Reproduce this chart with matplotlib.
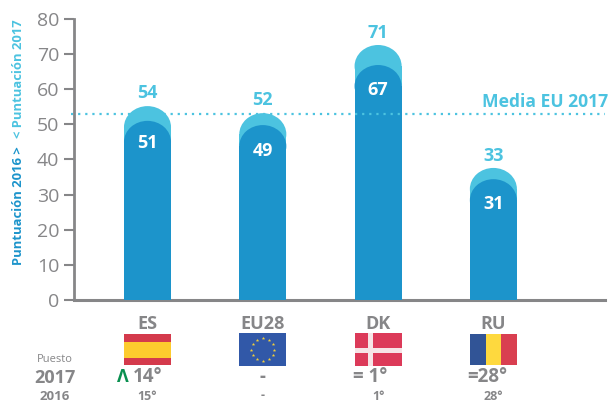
import numpy as np
import matplotlib
matplotlib.use("Agg")
import matplotlib.pyplot as plt
from matplotlib.patches import Ellipse, Rectangle

plt.rcParams['font.family'] = ['Open Sans', 'DejaVu Sans']

categories = ["ES", "EU28", "DK", "RU"]
top_2017 = [55.2, 53.2, 72.6, 37.6]  # drawn heights
top_2016 = [51.0, 49.8, 66.9, 34.4]
labels_2017 = ["54", "52", "71", "33"]
labels_2016 = ["51", "49", "67", "31"]
label_2017_y = [59.0, 57.0, 76.0, 41.0]
label_2016_y = [44.6, 42.3, 59.9, 27.4]
eu_mean = 53
rank_2017 = ["14°", "-", "= 1°", "=28°"]
rank_2016 = ["15°", "-", "1°", "28°"]
rank_2017_shift = [0, 0, -0.065, -0.05]

GREY = "#868688"
LIGHT = "#4cc3e0"
DARK = "#1c94cb"
W = 609
H = 403
bar_w = 0.408
cap = 6.0  # height of rounded top, in axis units

fig = plt.figure(figsize=(W / 100, H / 100), dpi=100)
ax = fig.add_axes([74 / W, 103 / H, 531 / W, 281 / H])
ax.set_xlim(-0.6375, 3.968)
ax.set_ylim(0, 80)


def round_bar(x, top, color, z):
    ax.bar(x, top - cap, bar_w, color=color, zorder=z)
    ax.add_patch(Ellipse((x, top - cap), bar_w, 2 * cap, color=color, lw=0, zorder=z))


for i in range(len(categories)):
    round_bar(i, top_2017[i], LIGHT, 2)
    round_bar(i, top_2016[i], DARK, 3)
    ax.text(i, label_2017_y[i], labels_2017[i], color=LIGHT, fontsize=13, fontweight="bold",
            ha="center", va="center", zorder=5)
    ax.text(i, label_2016_y[i], labels_2016[i], color="white", fontsize=13, fontweight="bold",
            ha="center", va="center", zorder=5)

# dotted mean line sits behind the bars, except across DK
ax.plot([-0.66, 3.968], [eu_mean, eu_mean], color=LIGHT, lw=1.6, ls=(0, (1, 2.2)), zorder=1, clip_on=False)
ax.plot([2 - bar_w / 2, 2 + bar_w / 2], [eu_mean, eu_mean], color=LIGHT, lw=1.6, ls=(0, (1, 2.2)), zorder=4)
ax.text(3.995, 56.5, "Media EU 2017", color=LIGHT, fontsize=12.6, fontweight="bold", ha="right", va="center")

for s in ["top", "right"]:
    ax.spines[s].set_visible(False)
ax.spines["left"].set_color(GREY)
ax.spines["left"].set_linewidth(2)
ax.spines["bottom"].set_color(GREY)
ax.spines["bottom"].set_linewidth(2.2)
ax.set_yticks(range(0, 81, 10))
ax.tick_params(axis="y", colors=GREY, labelsize=14, length=7.5, width=1.5, pad=3)
ax.set_xticks(range(len(categories)))
ax.set_xticklabels(categories, fontsize=13, color=GREY, fontweight="bold")
ax.tick_params(axis="x", length=0, pad=10.5)

fig.text(18.5 / W, 1 - 206 / H, "Puntuación 2016 >", color=DARK, fontsize=9.4, fontweight="bold",
         rotation=90, ha="center", va="center")
fig.text(18.5 / W, 1 - 79 / H, "< Puntuación 2017", color=LIGHT, fontsize=9.4, fontweight="bold",
         rotation=90, ha="center", va="center")

# lower strip: flags and ranking, y in pixels
low = fig.add_axes([74 / W, 0, 531 / W, 103 / H])
low.set_xlim(ax.get_xlim())
low.set_ylim(403, 300)
low.axis("off")
low.patch.set_alpha(0)


def stripe(x0, y0, w, h, color):
    low.add_patch(Rectangle((x0, y0), w, h, color=color, lw=0))


# Spain
stripe(-bar_w / 2, 334, bar_w, 31, "#d43a4c")
stripe(-bar_w / 2, 342, bar_w, 16, "#fdcb2e")
# EU
stripe(1 - bar_w / 2, 333, bar_w, 33, "#3158a8")
angles = np.radians(np.arange(0, 360, 30))
low.scatter(1 + 11.5 / 115.3 * np.cos(angles), 349.5 + 11.5 * np.sin(angles), s=7, marker="*",
            color="#f2cf3a", linewidths=0)
# Denmark
stripe(2 - bar_w / 2, 333, bar_w, 33, "#dc3a59")
stripe(2 - 0.09, 333, 0.045, 33, "#f6e4e6")
stripe(2 - bar_w / 2, 348, bar_w, 4.5, "#f6e4e6")
# Romania
stripe(3 - bar_w / 2, 334, bar_w / 3, 31, "#315496")
stripe(3 - bar_w / 6, 334, bar_w / 3, 31, "#fed93e")
stripe(3 + bar_w / 6, 334, bar_w / 3, 31, "#d93f50")

for i in range(len(categories)):
    low.text(i + rank_2017_shift[i], 377.5, rank_2017[i], color=GREY, fontsize=13.5, fontweight="bold",
             ha="center", va="center")
    low.text(i, 396, rank_2016[i], color=GREY, fontsize=9, fontweight="bold", ha="center", va="center")

low.text(-0.21, 377.5, "Λ", color="#0a9050", fontsize=13, fontweight="bold", ha="center", va="center")

fig.text(55 / W, 1 - 360 / H, "Puesto", color=GREY, fontsize=8, ha="center", va="center")
fig.text(55 / W, 1 - 378 / H, "2017", color=GREY, fontsize=13, fontweight="bold", ha="center", va="center")
fig.text(55 / W, 1 - 396 / H, "2016", color=GREY, fontsize=9.5, fontweight="bold", ha="center", va="center")

fig.savefig("out.png", dpi=100)
